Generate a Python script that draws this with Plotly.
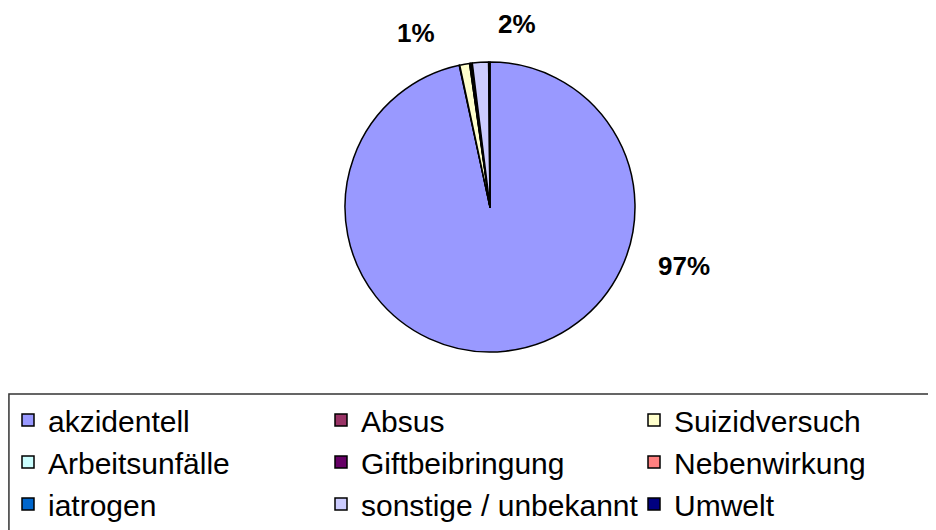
import plotly.graph_objects as go

# ---- data ----
categories = ["akzidentell", "Absus", "Suizidversuch", "Arbeitsunfälle",
              "Giftbeibringung", "Nebenwirkung", "iatrogen",
              "sonstige / unbekannt", "Umwelt"]
values = [96.6, 0.05, 1.1, 0.05, 0.05, 0.15, 0.05, 1.8, 0.15]
labelled = ["akzidentell", "Suizidversuch", "sonstige / unbekannt"]

# ---- style ----
colors = ["#9999FF", "#993366", "#FFFFCC", "#CCFFFF", "#660066",
          "#FF8080", "#0066CC", "#CCCCFF", "#000080"]
W, H = 936, 530
OFF = 8  # page body margin offset
cx, cy, r = 490 - OFF, 207 - OFF, 145
label_pos = {  # pixel centres of the percentage labels (page coords)
    "akzidentell": (684, 266),
    "Suizidversuch": (416, 33),
    "sonstige / unbekannt": (517, 24),
}
FONT = "Liberation Sans, Arial, sans-serif"
legend_top = 386

fig = go.Figure()
fig.add_trace(go.Pie(
    labels=categories,
    values=values,
    sort=False,
    direction="clockwise",
    rotation=0,
    textinfo="none",
    hoverinfo="label+percent",
    marker=dict(colors=colors, line=dict(color="black", width=1.5)),
    domain=dict(x=[(cx - r) / W, (cx + r) / W],
                y=[1 - (cy + r) / H, 1 - (cy - r) / H]),
))

total = sum(values)
annotations = []
for cat, v in zip(categories, values):
    if cat in label_pos:
        px, py = label_pos[cat]
        annotations.append(dict(
            x=(px - OFF) / W, y=1 - (py - OFF) / H, xref="paper", yref="paper",
            text="<b>%d%%</b>" % int(v / total * 100 + 0.5),
            showarrow=False, xanchor="center", yanchor="middle",
            font=dict(family=FONT, size=26, color="black"),
        ))

fig.update_layout(
    width=W, height=H, autosize=False,
    margin=dict(l=0, r=0, t=0, b=0),
    paper_bgcolor="white", plot_bgcolor="white",
    annotations=annotations,
    showlegend=True,
    legend=dict(
        orientation="h",
        x=4 / W, xanchor="left",
        y=1 - legend_top / H, yanchor="top",
        entrywidth=268, entrywidthmode="pixels",
        font=dict(family=FONT, size=30, color="black"),
        bgcolor="rgba(0,0,0,0)", borderwidth=0,
        traceorder="normal",
    ),
    shapes=[dict(
        type="rect", xref="paper", yref="paper",
        x0=0.001, x1=1.02, y0=1 - legend_top / H, y1=-0.05,
        line=dict(color="#333333", width=1.5),
        fillcolor="rgba(0,0,0,0)", layer="below",
    )],
)

fig.write_html("out.html")
